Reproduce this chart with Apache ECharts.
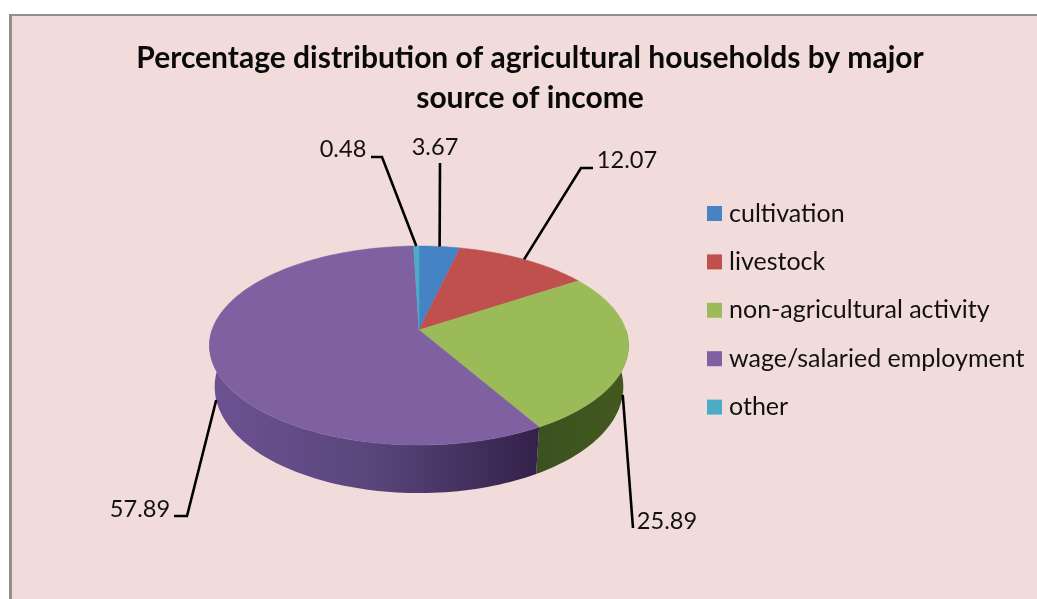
<!DOCTYPE html>
<html>
<head>
<meta charset="utf-8">
<title>Agricultural households by major source of income</title>
<script src="https://cdn.jsdelivr.net/npm/echarts@6/dist/echarts.min.js"></script>
<style>
html,body{margin:0;padding:0;background:#fff}
#chart{width:1037px;height:599px}
</style>
</head>
<body>
<div id="chart"></div>
<script>
// Source categories and their shares (percent)
const categories = ['cultivation', 'livestock', 'non-agricultural activity', 'wage/salaried employment', 'other'];
const shares = [3.67, 12.07, 25.89, 57.89, 0.48];
const titleText = 'Percentage distribution of agricultural households by major\nsource of income';

const topColors = ['#4583c4', '#c0504d', '#9bbb59', '#7f60a1', '#4bacc6'];
// Rim wall shading, left to right
const wallStops = {
  2: ['#3a5220', '#44591f'],
  3: ['#6c5293', '#59457a', '#33214a']
};

// Tilted-disc projection of the pie
const disc = { cx: 419, cy: 330, a: 207, b: 97.1, k: 0.156, wallScale: 0.975, wallBase: 40, wallTilt: 8 };

function project(deg, onFloor) {
  const t = deg * Math.PI / 180;
  const s = Math.sin(t), u = Math.cos(t);
  const w = 1 + disc.k * u;
  let x = disc.a * s / w, y = -disc.b * u / w;
  if (onFloor) {
    x *= disc.wallScale;
    y += disc.wallBase - disc.wallTilt * u;
  }
  return [disc.cx + x, disc.cy + y];
}

function arc(from, to, onFloor) {
  const pts = [];
  const n = Math.max(2, Math.ceil(Math.abs(to - from) / 1.5));
  for (let i = 0; i <= n; i++) pts.push(project(from + (to - from) * i / n, onFloor));
  return pts;
}

// Label placement: leader elbow, and where the value text sits
const leaders = [
  { elbow: [440, 163], text: [435, 147], floor: false },
  { elbow: [581, 168], tail: [593, 168], text: [627, 160], floor: false },
  { elbow: [633, 528], text: [667, 521], floor: true },
  { elbow: [187, 516], tail: [174, 516], text: [140, 509], floor: true },
  { elbow: [382, 157], tail: [371, 157], text: [343, 149], floor: false }
];

const cumulative = [];
shares.reduce((sum, v, i) => { cumulative[i] = sum; return sum + v; }, 0);

function renderSlice(index) {
  return function (params, api) {
    const start = cumulative[index] * 3.6;
    const value = api.value(0);
    const end = start + value * 3.6;
    const mid = (start + end) / 2;
    const children = [];

    // Outer wall, only on the near half of the disc
    const wallFrom = Math.max(start, 90), wallTo = Math.min(end, 270);
    if (wallTo > wallFrom && wallStops[index]) {
      const stops = wallStops[index];
      children.push({
        type: 'polygon',
        shape: { points: arc(wallFrom, wallTo, false).concat(arc(wallTo, wallFrom, true)) },
        style: {
          fill: {
            type: 'linear', x: 0, y: 0, x2: 1, y2: 0,
            colorStops: stops.map((c, i) => ({ offset: i / (stops.length - 1), color: c }))
          }
        }
      });
    }

    // Top face
    children.push({
      type: 'polygon',
      shape: { points: [[disc.cx, disc.cy]].concat(arc(start, end, false)) },
      style: { fill: topColors[index], stroke: topColors[index], lineWidth: 0.5 }
    });

    // Leader line and value label
    const lead = leaders[index];
    const line = [project(mid, lead.floor), lead.elbow];
    if (lead.tail) line.push(lead.tail);
    children.push({
      type: 'polyline',
      shape: { points: line },
      style: { fill: null, stroke: '#000', lineWidth: 2.6 }
    });
    children.push({
      type: 'text',
      style: {
        x: lead.text[0], y: lead.text[1], text: value.toFixed(2),
        align: 'center', verticalAlign: 'middle',
        font: '23.6px Lato', fill: '#111'
      }
    });
    return { type: 'group', children };
  };
}

const chart = echarts.init(document.getElementById('chart'), null, { renderer: 'canvas' });
chart.setOption({
  animation: false,
  backgroundColor: '#ffffff',
  title: {
    text: titleText,
    left: 525,
    top: 33,
    textAlign: 'center',
    textStyle: { fontFamily: 'Lato', fontWeight: 'bold', fontSize: 30, lineHeight: 40, color: '#0a0a0a' }
  },
  legend: {
    orient: 'vertical',
    left: 707,
    top: 201,
    padding: 0,
    itemWidth: 15,
    itemHeight: 15,
    itemGap: 23.4,
    icon: 'rect',
    data: categories,
    selectedMode: false,
    textStyle: { fontFamily: 'Lato', fontSize: 25, lineHeight: 15, color: '#111', padding: [0, 0, 0, 2] }
  },
  graphic: [
    { type: 'rect', z: -2, shape: { x: 9, y: 14, width: 1028, height: 585 }, style: { fill: '#8f8f8f' } },
    { type: 'rect', z: -1, shape: { x: 12, y: 16, width: 1025, height: 583 }, style: { fill: '#f2dcdb' } }
  ],
  series: categories.map((name, i) => ({
    type: 'custom',
    name,
    coordinateSystem: 'none',
    itemStyle: { color: topColors[i] },
    renderItem: renderSlice(i),
    silent: true,
    data: [[shares[i]]]
  }))
});
</script>
</body>
</html>
